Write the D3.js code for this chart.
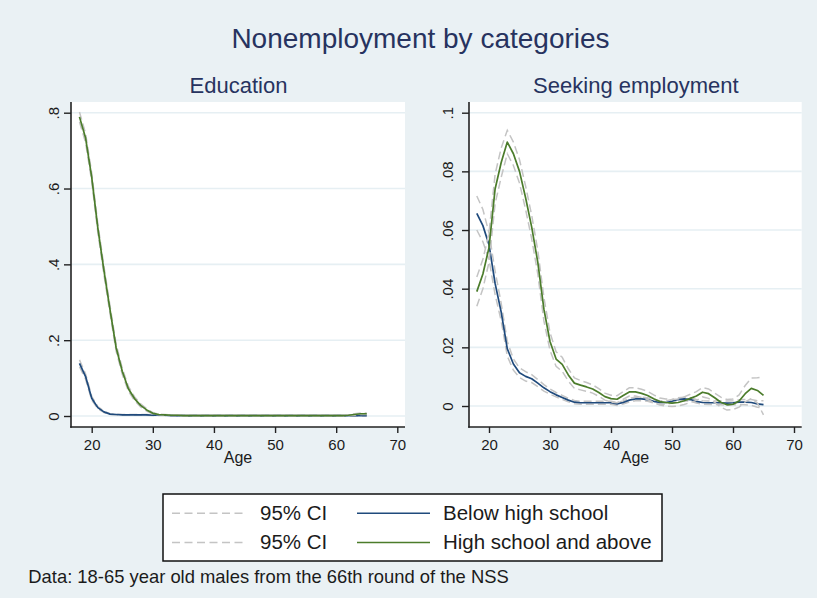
<!DOCTYPE html>
<html>
<head>
<meta charset="utf-8">
<script src="https://cdn.jsdelivr.net/npm/d3@7"></script>
<style>
  html, body { margin: 0; padding: 0; background: #eaf1f4; }
  svg { display: block; font-family: "Liberation Sans", Arial, sans-serif; }
</style>
</head>
<body>
<svg id="chart" width="817" height="598"></svg>
<script>
// Age grid shared by every series (18 to 65)
const ages = d3.range(18, 66);

// Education panel: share not employed because in education
const eduBelow = [
  0.139, 0.104, 0.047, 0.022, 0.011, 0.005, 0.004, 0.003, 0.003, 0.003,
  0.003, 0.003, 0.002, 0.002, 0.002, 0.001, 0.001, 0.001, 0.001, 0.001,
  0.001, 0.001, 0.001, 0.001, 0.001, 0.001, 0.001, 0.001, 0.001, 0.001,
  0.001, 0.001, 0.001, 0.001, 0.001, 0.001, 0.001, 0.001, 0.001, 0.001,
  0.001, 0.001, 0.001, 0.001, 0.001, 0.001, 0.001, 0.001
];
const eduBelowLo = [
  0.130, 0.097, 0.042, 0.019, 0.009, 0.004, 0.003, 0.002, 0.002, 0.002,
  0.002, 0.002, 0.001, 0.001, 0.001, 0.000, 0.000, 0.000, 0.000, 0.000,
  0.000, 0.000, 0.000, 0.000, 0.000, 0.000, 0.000, 0.000, 0.000, 0.000,
  0.000, 0.000, 0.000, 0.000, 0.000, 0.000, 0.000, 0.000, 0.000, 0.000,
  0.000, 0.000, 0.000, 0.000, 0.000, 0.000, 0.000, 0.000
];
const eduBelowHi = [
  0.148, 0.111, 0.052, 0.025, 0.013, 0.006, 0.005, 0.004, 0.004, 0.004,
  0.004, 0.004, 0.003, 0.003, 0.003, 0.002, 0.002, 0.002, 0.002, 0.002,
  0.002, 0.002, 0.002, 0.002, 0.002, 0.002, 0.002, 0.002, 0.002, 0.002,
  0.002, 0.002, 0.002, 0.002, 0.002, 0.002, 0.002, 0.002, 0.002, 0.002,
  0.002, 0.002, 0.002, 0.002, 0.002, 0.002, 0.002, 0.002
];
const eduAbove = [
  0.789, 0.733, 0.630, 0.496, 0.384, 0.280, 0.180, 0.118, 0.072, 0.046,
  0.028, 0.016, 0.007, 0.004, 0.003, 0.002, 0.002, 0.001, 0.001, 0.001,
  0.001, 0.001, 0.001, 0.001, 0.001, 0.001, 0.001, 0.001, 0.001, 0.001,
  0.001, 0.001, 0.001, 0.001, 0.001, 0.001, 0.001, 0.001, 0.001, 0.001,
  0.001, 0.001, 0.001, 0.001, 0.002, 0.004, 0.006, 0.006
];
const eduAboveLo = [
  0.776, 0.721, 0.619, 0.485, 0.373, 0.270, 0.171, 0.110, 0.066, 0.041,
  0.024, 0.013, 0.005, 0.003, 0.002, 0.001, 0.001, 0.000, 0.000, 0.000,
  0.000, 0.000, 0.000, 0.000, 0.000, 0.000, 0.000, 0.000, 0.000, 0.000,
  0.000, 0.000, 0.000, 0.000, 0.000, 0.000, 0.000, 0.000, 0.000, 0.000,
  0.000, 0.000, 0.000, 0.000, 0.001, 0.002, 0.004, 0.004
];
const eduAboveHi = [
  0.802, 0.745, 0.641, 0.507, 0.395, 0.290, 0.189, 0.126, 0.078, 0.051,
  0.032, 0.019, 0.009, 0.005, 0.004, 0.003, 0.003, 0.002, 0.002, 0.002,
  0.002, 0.002, 0.002, 0.002, 0.002, 0.002, 0.002, 0.002, 0.002, 0.002,
  0.002, 0.002, 0.002, 0.002, 0.002, 0.002, 0.002, 0.002, 0.002, 0.002,
  0.002, 0.002, 0.002, 0.002, 0.003, 0.006, 0.008, 0.008
];

// Seeking-employment panel
const seekBelow = [
  0.0657, 0.0615, 0.0550, 0.0418, 0.0320, 0.0195, 0.0143, 0.0113, 0.0101, 0.0093,
  0.0078, 0.0062, 0.0049, 0.0038, 0.0029, 0.0020, 0.0013, 0.0011, 0.0011, 0.0011,
  0.0011, 0.0011, 0.0011, 0.0007, 0.0012, 0.0020, 0.0024, 0.0024, 0.0022, 0.0016,
  0.0012, 0.0012, 0.0016, 0.0022, 0.0024, 0.0022, 0.0016, 0.0012, 0.0011, 0.0011,
  0.0011, 0.0010, 0.0011, 0.0013, 0.0013, 0.0012, 0.0007, 0.0005
];
const seekBelowLo = [
  0.0600, 0.0560, 0.0500, 0.0380, 0.0290, 0.0170, 0.0122, 0.0097, 0.0085, 0.0080,
  0.0066, 0.0051, 0.0040, 0.0031, 0.0022, 0.0014, 0.0008, 0.0006, 0.0006, 0.0006,
  0.0006, 0.0006, 0.0006, 0.0002, 0.0007, 0.0014, 0.0018, 0.0018, 0.0016, 0.0010,
  0.0006, 0.0006, 0.0010, 0.0016, 0.0018, 0.0016, 0.0010, 0.0006, 0.0005, 0.0005,
  0.0004, 0.0003, 0.0004, 0.0005, 0.0004, 0.0002, -0.0004, -0.0008
];
const seekBelowHi = [
  0.0716, 0.0670, 0.0590, 0.0460, 0.0350, 0.0220, 0.0160, 0.0130, 0.0117, 0.0107,
  0.0090, 0.0073, 0.0058, 0.0046, 0.0036, 0.0026, 0.0019, 0.0016, 0.0016, 0.0016,
  0.0016, 0.0016, 0.0016, 0.0012, 0.0017, 0.0026, 0.0030, 0.0030, 0.0028, 0.0022,
  0.0018, 0.0018, 0.0022, 0.0028, 0.0030, 0.0028, 0.0022, 0.0018, 0.0017, 0.0017,
  0.0018, 0.0017, 0.0018, 0.0021, 0.0022, 0.0022, 0.0018, 0.0018
];
const seekAbove = [
  0.0390, 0.0450, 0.0540, 0.0740, 0.0830, 0.0900, 0.0860, 0.0800, 0.0710, 0.0610,
  0.0490, 0.0330, 0.0220, 0.0160, 0.0142, 0.0106, 0.0078, 0.0071, 0.0065, 0.0058,
  0.0046, 0.0032, 0.0025, 0.0023, 0.0036, 0.0048, 0.0048, 0.0043, 0.0036, 0.0025,
  0.0015, 0.0012, 0.0010, 0.0012, 0.0018, 0.0026, 0.0034, 0.0047, 0.0042, 0.0028,
  0.0013, 0.0004, 0.0006, 0.0017, 0.0042, 0.0060, 0.0053, 0.0036
];
const seekAboveLo = [
  0.0340, 0.0400, 0.0490, 0.0690, 0.0780, 0.0860, 0.0820, 0.0760, 0.0670, 0.0570,
  0.0450, 0.0290, 0.0190, 0.0135, 0.0118, 0.0085, 0.0060, 0.0055, 0.0050, 0.0044,
  0.0033, 0.0020, 0.0013, 0.0011, 0.0023, 0.0034, 0.0034, 0.0029, 0.0022, 0.0012,
  0.0003, 0.0000, -0.0002, 0.0000, 0.0005, 0.0012, 0.0019, 0.0031, 0.0026, 0.0012,
  -0.0004, -0.0014, -0.0012, -0.0004, 0.0014, 0.0025, 0.0010, -0.0030
];
const seekAboveHi = [
  0.0440, 0.0500, 0.0590, 0.0790, 0.0880, 0.0940, 0.0900, 0.0840, 0.0750, 0.0650,
  0.0530, 0.0370, 0.0250, 0.0185, 0.0166, 0.0127, 0.0096, 0.0087, 0.0080, 0.0072,
  0.0059, 0.0044, 0.0037, 0.0035, 0.0049, 0.0062, 0.0062, 0.0057, 0.0050, 0.0038,
  0.0027, 0.0024, 0.0022, 0.0024, 0.0031, 0.0040, 0.0049, 0.0063, 0.0058, 0.0044,
  0.0030, 0.0022, 0.0024, 0.0038, 0.0070, 0.0095, 0.0096, 0.0100
];

// Axis ticks and labels
const xTicks = [20, 30, 40, 50, 60, 70];
const eduTicks = [0, 0.2, 0.4, 0.6, 0.8];
const seekTicks = [0, 0.02, 0.04, 0.06, 0.08, 0.1];

const chartTitle = "Nonemployment by categories";
const panelTitles = ["Education", "Seeking employment"];
const axisTitle = "Age";
const legendLabels = ["95% CI", "Below high school", "95% CI", "High school and above"];
const footnote = "Data: 18-65 year old males from the 66th round of the NSS";

const colBelow = "#1f4a7c";
const colAbove = "#4b7c2b";
const colCI = "#c4c4c4";
const gridCol = "#e6eff3";
const titleCol = "#27335f";
const textCol = "#1b1b1b";
const fontFam = '"Liberation Sans", Arial, sans-serif';

const svg = d3.select("#chart");

svg.append("rect").attr("width", 817).attr("height", 598).attr("fill", "#eaf1f4");

svg.append("text")
  .attr("x", 420.5).attr("y", 48)
  .attr("text-anchor", "middle")
  .attr("font-size", 28).attr("fill", titleCol)
  .text(chartTitle);

const panels = [
  {
    title: panelTitles[0],
    frame: { x0: 71, x1: 405, y0: 102, y1: 427 },
    xr: [91.7, 397.3], yr: [416, 112.7], ydom: [0, 0.8],
    ticks: eduTicks, labelGap: 12.5,
    series: [
      { lo: eduBelowLo, hi: eduBelowHi, v: eduBelow, c: colBelow },
      { lo: eduAboveLo, hi: eduAboveHi, v: eduAbove, c: colAbove }
    ]
  },
  {
    title: panelTitles[1],
    frame: { x0: 469, x1: 801.7, y0: 102, y1: 427 },
    xr: [489, 794], yr: [406, 112.7], ydom: [0, 0.1],
    ticks: seekTicks, labelGap: 16.5,
    series: [
      { lo: seekBelowLo, hi: seekBelowHi, v: seekBelow, c: colBelow },
      { lo: seekAboveLo, hi: seekAboveHi, v: seekAbove, c: colAbove }
    ]
  }
];

const fmtY = d => d === 0 ? "0" : d3.format("~g")(d).replace(/^0\./, ".");

panels.forEach(p => {
  const f = p.frame;
  const x = d3.scaleLinear().domain([20, 70]).range(p.xr);
  const y = d3.scaleLinear().domain(p.ydom).range(p.yr);
  const g = svg.append("g");

  // plot region
  g.append("rect")
    .attr("x", f.x0).attr("y", f.y0)
    .attr("width", f.x1 - f.x0).attr("height", f.y1 - f.y0)
    .attr("fill", "#ffffff");

  // horizontal grid
  g.selectAll(".grid").data(p.ticks).join("line")
    .attr("x1", f.x0).attr("x2", f.x1)
    .attr("y1", d => y(d)).attr("y2", d => y(d))
    .attr("stroke", gridCol).attr("stroke-width", 1.6);

  // panel subtitle
  g.append("text")
    .attr("x", (f.x0 + f.x1) / 2 + 0.5).attr("y", 92.5)
    .attr("text-anchor", "middle")
    .attr("font-size", 22).attr("fill", titleCol)
    .text(p.title);

  // series: CI lines first, then the estimate
  const line = d3.line().x((d, i) => x(ages[i])).y(d => y(d));
  const clip = "clip" + p.title.replace(/\s/g, "");
  g.append("clipPath").attr("id", clip).append("rect")
    .attr("x", f.x0).attr("y", f.y0).attr("width", f.x1 - f.x0).attr("height", f.y1 - f.y0);
  const sg = g.append("g").attr("clip-path", `url(#${clip})`);
  p.series.forEach(s => {
    [s.lo, s.hi].forEach(arr => {
      sg.append("path").datum(arr)
        .attr("d", line)
        .attr("fill", "none").attr("stroke", colCI)
        .attr("stroke-width", 1.5).attr("stroke-dasharray", "8,4");
    });
    sg.append("path").datum(s.v)
      .attr("d", line)
      .attr("fill", "none").attr("stroke", s.c)
      .attr("stroke-width", 1.7).attr("stroke-linejoin", "round");
  });

  // y axis
  const ya = g.append("g").attr("transform", `translate(${f.x0},0)`)
    .call(d3.axisLeft(y).tickValues(p.ticks).tickFormat(fmtY).tickSize(7).tickSizeOuter(0));
  ya.select(".domain").remove();
  ya.selectAll(".tick line").attr("stroke", "#222").attr("stroke-width", 1.4);
  ya.selectAll(".tick text")
    .attr("x", 0).attr("dy", 0).attr("y", -p.labelGap)
    .attr("transform", "rotate(-90)")
    .attr("text-anchor", "middle")
    .attr("font-size", 15).attr("font-family", fontFam).attr("fill", textCol);

  // x axis
  const xa = g.append("g").attr("transform", `translate(0,${f.y1})`)
    .call(d3.axisBottom(x).tickValues(xTicks).tickSize(6).tickPadding(8).tickSizeOuter(0));
  xa.select(".domain").remove();
  xa.selectAll(".tick line").attr("stroke", "#222").attr("stroke-width", 1.4);
  xa.selectAll(".tick text")
    .attr("dy", 0).attr("y", 23)
    .attr("font-size", 15).attr("font-family", fontFam).attr("fill", textCol);

  // axis lines along the plot region edges
  g.append("line").attr("x1", f.x0).attr("x2", f.x0).attr("y1", f.y0).attr("y2", f.y1 + 0.8)
    .attr("stroke", "#222").attr("stroke-width", 1.6);
  g.append("line").attr("x1", f.x0 - 0.8).attr("x2", f.x1).attr("y1", f.y1).attr("y2", f.y1)
    .attr("stroke", "#222").attr("stroke-width", 1.6);

  g.append("text")
    .attr("x", (p.xr[0] + p.xr[1]) / 2 - 6.5).attr("y", 462.5)
    .attr("text-anchor", "middle")
    .attr("font-size", 16).attr("fill", textCol)
    .text(axisTitle);
});

// legend
const lg = svg.append("g");
lg.append("rect")
  .attr("x", 163).attr("y", 494).attr("width", 499).attr("height", 67)
  .attr("fill", "#ffffff").attr("stroke", "#111").attr("stroke-width", 1.5);
const legendItems = [
  { label: legendLabels[0], dash: true, c: colCI, col: 0, row: 0 },
  { label: legendLabels[1], dash: false, c: colBelow, col: 1, row: 0 },
  { label: legendLabels[2], dash: true, c: colCI, col: 0, row: 1 },
  { label: legendLabels[3], dash: false, c: colAbove, col: 1, row: 1 }
];
const colX = [[172, 247, 260], [357, 430, 443]];
const rowY = [513.3, 542.5];
legendItems.forEach(it => {
  const cx = colX[it.col], yy = rowY[it.row];
  lg.append("line")
    .attr("x1", cx[0]).attr("x2", cx[1]).attr("y1", yy).attr("y2", yy)
    .attr("stroke", it.c).attr("stroke-width", 1.6)
    .attr("stroke-dasharray", it.dash ? "8,4.5" : null);
  lg.append("text")
    .attr("x", cx[2]).attr("y", yy + 6.5)
    .attr("font-size", 20.5).attr("fill", textCol)
    .text(it.label);
});

svg.append("text")
  .attr("x", 28.3).attr("y", 582.5)
  .attr("font-size", 18.4).attr("fill", textCol)
  .text(footnote);
</script>
</body>
</html>
